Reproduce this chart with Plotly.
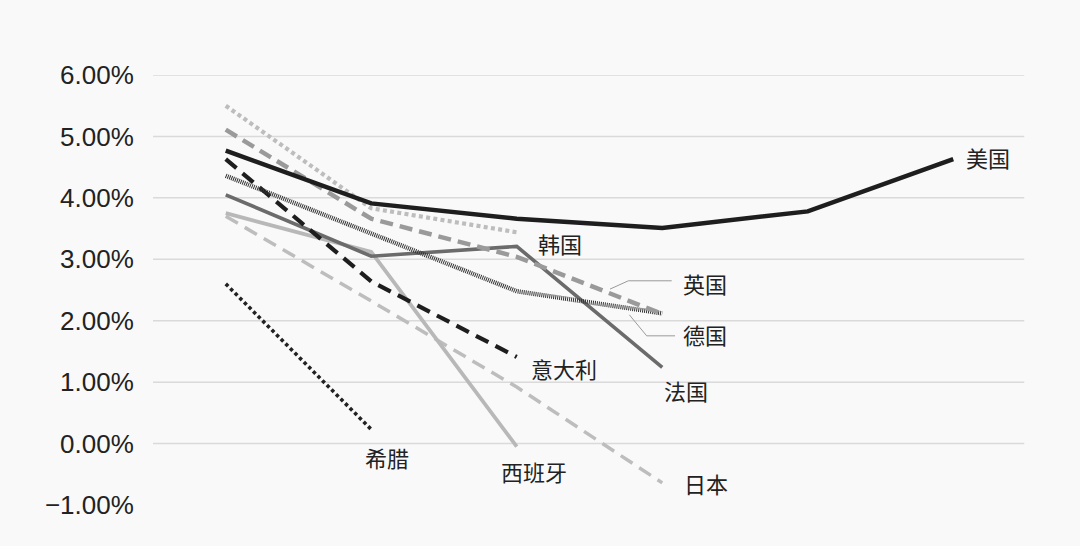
import plotly.graph_objects as go

# ---- data (percent) ----
periods = ["1", "2", "3", "4", "5", "6"]
us = [4.77, 3.91, 3.66, 3.51, 3.78, 4.63]
korea = [5.50, 3.83, 3.44]
uk = [5.11, 3.66, 3.04, 2.11]
germany = [4.36, 3.42, 2.48, 2.12]
italy = [4.63, 2.64, 1.41]
france = [4.05, 3.05, 3.21, 1.24]
spain = [3.75, 3.12, -0.05]
japan = [3.70, 2.32, 0.92, -0.64]
greece = [2.60, 0.23]

y_ticks = [-1, 0, 1, 2, 3, 4, 5, 6]
y_ticktext = ["\u22121.00%", "0.00%", "1.00%", "2.00%", "3.00%", "4.00%", "5.00%", "6.00%"]

series = [
    ("日本", japan, dict(color="#bdbdbd", width=3.5, dash="14px,8px")),
    ("西班牙", spain, dict(color="#b8b8b8", width=3.8)),
    ("希腊", greece, dict(color="#222222", width=3.6, dash="3.5px,3px")),
    ("法国", france, dict(color="#6b6b6b", width=3.6)),
    ("意大利", italy, dict(color="#1e1e1e", width=4.2, dash="14px,8px")),
    ("德国", germany, dict(color="#333333", width=4.5, dash="1px,1px")),
    ("英国", uk, dict(color="#9a9a9a", width=4.5, dash="13px,7px")),
    ("韩国", korea, dict(color="#bdbdbd", width=4.2, dash="4px,3.3px")),
    ("美国", us, dict(color="#1e1e1e", width=4.5)),
]

# label positions (data coords)
labels = [
    ("美国", 5.241, 4.67),
    ("韩国", 2.297, 3.265),
    ("英国", 3.294, 2.613),
    ("德国", 3.294, 1.787),
    ("意大利", 2.325, 1.233),
    ("法国", 3.164, 0.875),
    ("希腊", 1.107, -0.217),
    ("西班牙", 2.118, -0.445),
    ("日本", 3.301, -0.64),
]
leaders = [
    ([2.641, 2.767, 3.065], [2.515, 2.650, 2.650]),
    ([2.774, 2.893, 3.088], [2.096, 1.754, 1.754]),
]

fig = go.Figure()
for name, vals, line in series:
    fig.add_trace(go.Scatter(
        x=list(range(len(vals))), y=vals, mode="lines", name=name,
        line=line, hoverinfo="skip", showlegend=False,
    ))

for lx, ly in leaders:
    fig.add_trace(go.Scatter(x=lx, y=ly, mode="lines",
                             line=dict(color="#9a9a9a", width=1),
                             hoverinfo="skip", showlegend=False))

for t, lx, ly in labels:
    fig.add_annotation(x=lx, y=ly, xref="x", yref="y", text=t, showarrow=False,
                       xanchor="center", yanchor="middle",
                       font=dict(family="Noto Sans CJK SC", size=22, color="#222222"))

for v in y_ticks:
    if v == -1:
        continue
    fig.add_shape(type="line", xref="paper", yref="y", x0=0, x1=0.998, y0=v, y1=v,
                  line=dict(color="#dadada", width=1.5), layer="below")

fig.update_layout(
    width=1080, height=546,
    margin=dict(l=153, r=54, t=75, b=41),
    paper_bgcolor="#f9f9f9", plot_bgcolor="#f9f9f9",
    xaxis=dict(range=[-0.5, 5.5], showgrid=False, zeroline=False, showline=False,
               showticklabels=False, ticks=""),
    yaxis=dict(range=[-1, 6], showgrid=False, zeroline=False, showline=False,
               tickvals=y_ticks, ticktext=y_ticktext,
               ticks="outside", ticklen=13, tickcolor="rgba(0,0,0,0)",
               tickfont=dict(family="Liberation Sans", size=26, color="#222222")),
)

fig.write_html(
    "out.html",
    config={"displayModeBar": False},
    post_script="document.body.style.margin='0';document.body.style.background='#f9f9f9';document.documentElement.style.overflow='hidden';",
)
